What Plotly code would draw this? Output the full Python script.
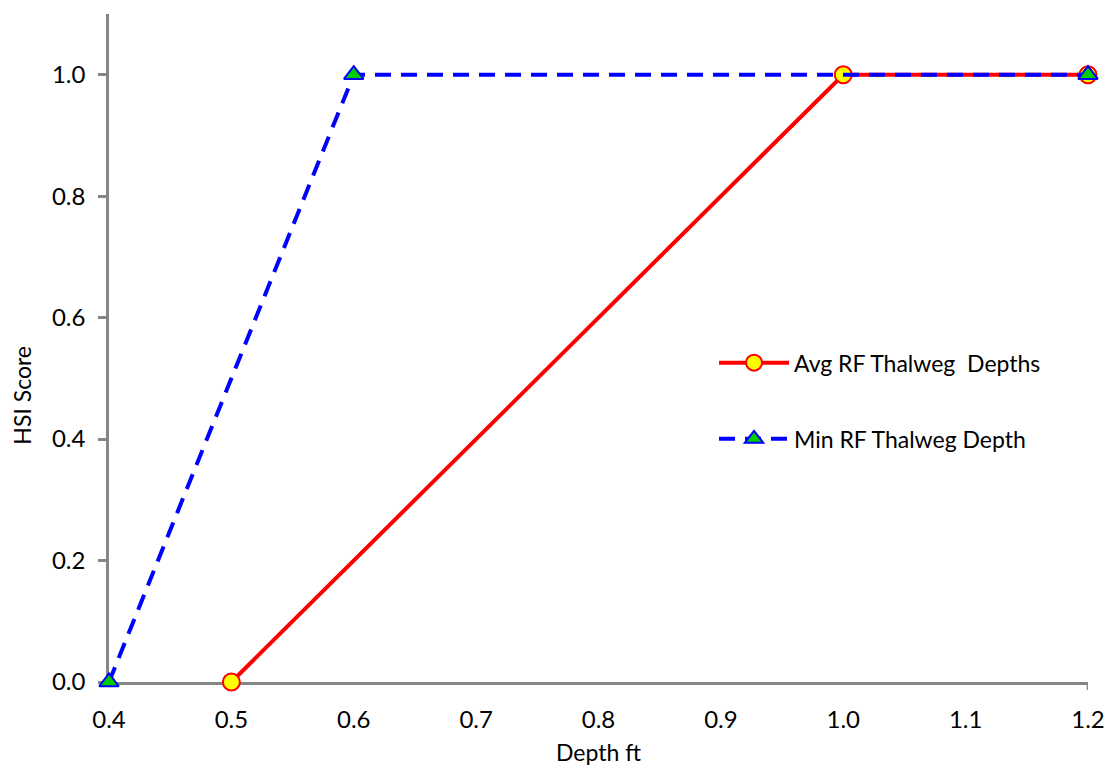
import plotly.graph_objects as go

# HSI suitability curves vs depth
avg_depth = [0.5, 1.0, 1.2]
avg_score = [0.0, 1.0, 1.0]
min_depth = [0.4, 0.6, 1.2]
min_score = [0.0, 1.0, 1.0]

x_ticks = [0.4, 0.5, 0.6, 0.7, 0.8, 0.9, 1.0, 1.1, 1.2]
y_ticks = [0.0, 0.2, 0.4, 0.6, 0.8, 1.0]

axis_color = "#868686"
font_family = "Lato, 'Open Sans', sans-serif"

fig = go.Figure()
fig.add_trace(go.Scatter(
    x=avg_depth, y=avg_score, mode="lines+markers",
    name="Avg RF Thalweg  Depths",
    line=dict(color="#ff0000", width=4),
    marker=dict(symbol="circle", size=17, color="#ffff00",
                line=dict(color="#ff0000", width=2)),
    cliponaxis=False, legend="legend",
))
fig.add_trace(go.Scatter(
    x=min_depth, y=min_score, mode="lines+markers",
    name="Min RF Thalweg Depth",
    line=dict(color="#0000ff", width=4, dash="16px,10px"),
    marker=dict(symbol="triangle-up", size=17, color="#00cc00",
                line=dict(color="#0000ff", width=2)),
    cliponaxis=False, legend="legend2",
))

# small end tick at the right of the x axis
fig.add_shape(type="line", xref="x", yref="paper", x0=1.2, x1=1.2,
              y0=0, y1=-0.012, layer="below",
              line=dict(color=axis_color, width=2.5))

# y-axis title, placed a little below the plot's mid-height
fig.add_annotation(text="HSI Score", xref="paper", yref="paper",
                   x=-0.089, y=0.43, xanchor="center", yanchor="middle",
                   textangle=-90, showarrow=False,
                   font=dict(family=font_family, size=23, color="#000000"))

legend_style = dict(
    xanchor="left", yanchor="middle", bgcolor="rgba(0,0,0,0)",
    font=dict(family=font_family, size=23, color="#000000"),
    itemwidth=70,
)

fig.update_layout(
    width=1109, height=772,
    margin=dict(l=109, r=21, t=14, b=90, autoexpand=False),
    plot_bgcolor="white", paper_bgcolor="white",
    font=dict(family=font_family, size=23, color="#000000"),
    showlegend=True,
    legend=dict(x=0.618, y=0.478, **legend_style),
    legend2=dict(x=0.618, y=0.364, **legend_style),
    xaxis=dict(
        range=[0.4, 1.2], tickvals=x_ticks, ticktext=[f"{v:.1f}" for v in x_ticks],
        showgrid=False, zeroline=False, showline=True, linecolor=axis_color,
        linewidth=2.5, ticks="", ticklabelstandoff=14, automargin=False,
        tickfont=dict(size=24), layer="below traces",
        title=dict(text="Depth ft", font=dict(size=23), standoff=14),
    ),
    yaxis=dict(
        range=[0, 1.1], tickvals=y_ticks, ticktext=[f"{v:.1f}" for v in y_ticks],
        showgrid=False, zeroline=False, showline=True, linecolor=axis_color,
        linewidth=2.5, ticks="outside", ticklen=8, tickcolor=axis_color,
        tickwidth=2.5, ticklabelstandoff=8, automargin=False,
        tickfont=dict(size=24), layer="below traces",
    ),
)

fig.write_html("out.html")
